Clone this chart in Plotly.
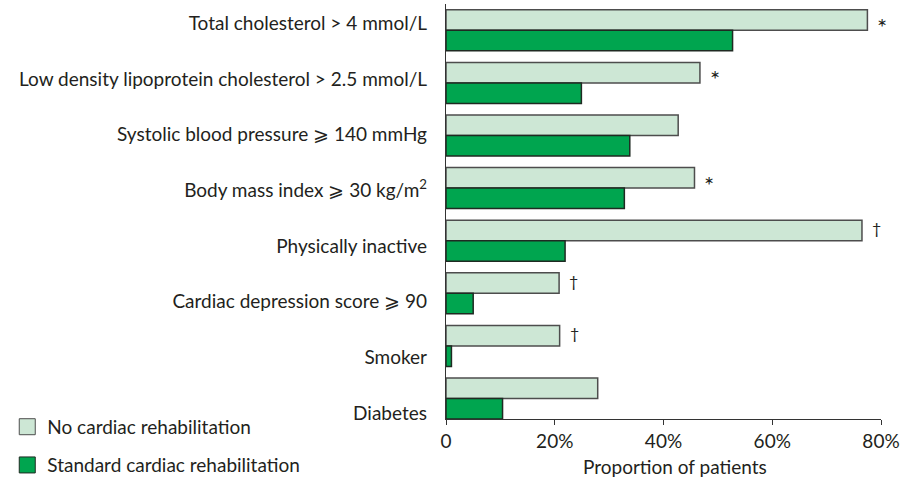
import plotly.graph_objects as go

# Risk factor categories, top to bottom
categories = [
    "Total cholesterol > 4 mmol/L",
    "Low density lipoprotein cholesterol > 2.5 mmol/L",
    "Systolic blood pressure ⩾ 140 mmHg",
    "Body mass index ⩾ 30 kg/m<sup>2</sup>",
    "Physically inactive",
    "Cardiac depression score ⩾ 90",
    "Smoker",
    "Diabetes",
]

# Proportion of patients (%)
no_rehab = [77.5, 46.7, 42.7, 45.7, 76.5, 20.8, 20.9, 27.9]
standard_rehab = [52.7, 24.9, 33.8, 32.8, 21.9, 5.0, 1.0, 10.4]

# Significance markers next to the "no rehabilitation" bars
significance = ["*", "*", "", "*", "†", "†", "†", ""]

series_names = ["No cardiac rehabilitation", "Standard cardiac rehabilitation"]

x_tickvals = [0, 20, 40, 60, 80]
x_ticktext = ["0", "20%", "40%", "60%", "80%"]
x_title = "Proportion of patients"

FONT = "Lato"
FS = 19
TEXT = "#231f20"
LIGHT = "#cde7d5"
DARK = "#00a54f"

positions = list(range(len(categories)))

fig = go.Figure()

fig.add_trace(go.Bar(
    x=no_rehab, y=positions, orientation="h", name=series_names[0],
    marker=dict(color=LIGHT, line=dict(color="#4d4d4d", width=1.5)),
    showlegend=False, hoverinfo="x",
))
fig.add_trace(go.Bar(
    x=standard_rehab, y=positions, orientation="h", name=series_names[1],
    marker=dict(color=DARK, line=dict(color="#1f2a22", width=1.5)),
    showlegend=False, hoverinfo="x",
))

# Invisible trace carrying the category label axis
fig.add_trace(go.Scatter(
    x=[0] * len(categories), y=positions, yaxis="y2", mode="markers",
    marker=dict(opacity=0), showlegend=False, hoverinfo="skip",
))

# Legend entries with larger square swatches
fig.add_trace(go.Scatter(
    x=[None], y=[None], mode="markers", name=series_names[0], legend="legend",
    marker=dict(symbol="square", size=16, color=LIGHT, line=dict(color="#4d4d4d", width=1)),
))
fig.add_trace(go.Scatter(
    x=[None], y=[None], mode="markers", name=series_names[1], legend="legend2",
    marker=dict(symbol="square", size=16, color=DARK, line=dict(color="#1f2a22", width=1)),
))

for i, (v, s) in enumerate(zip(no_rehab, significance)):
    if not s:
        continue
    star = s == "*"
    fig.add_annotation(
        x=v, y=i, xref="x", yref="y", text=s, showarrow=False,
        xanchor="left", yanchor="middle", xshift=8,
        yshift=4 if star else 13,
        font=dict(family=FONT, size=24 if star else 16, color=TEXT),
    )

# X-axis title, placed below the tick labels
fig.add_annotation(
    x=0.5, y=0, xref="paper", yref="paper", xshift=11, yshift=-47,
    text=x_title, showarrow=False, xanchor="center", yanchor="middle",
    font=dict(family=FONT, size=FS, color=TEXT),
)

legend_common = dict(
    xref="container", yref="container", xanchor="left", yanchor="middle",
    bgcolor="rgba(0,0,0,0)", borderwidth=0,
    font=dict(family=FONT, size=FS, color=TEXT),
)

fig.update_layout(
    width=908, height=478,
    margin=dict(l=446, r=27, t=4, b=59, autoexpand=False),
    paper_bgcolor="white", plot_bgcolor="white",
    barmode="group", bargap=0.22, bargroupgap=0,
    font=dict(family=FONT, size=FS, color=TEXT),
    legend=dict(x=0.008, y=0.107, **legend_common),
    legend2=dict(x=0.008, y=0.027, **legend_common),
    xaxis=dict(
        range=[0, 80], tickvals=x_tickvals, ticktext=x_ticktext,
        showline=True, linecolor="#333333", linewidth=1,
        ticks="outside", ticklen=5, tickcolor="#333333",
        showgrid=False, zeroline=False, automargin=False,
        tickfont=dict(family=FONT, size=FS, color=TEXT),
    ),
    yaxis=dict(
        range=[7.39, -0.5], showline=True, linecolor="#333333", linewidth=1,
        showticklabels=False, ticks="", showgrid=False, zeroline=False,
        automargin=False,
    ),
    yaxis2=dict(
        overlaying="y", side="left", anchor="x",
        range=[7.108, -0.351], tickvals=positions, ticktext=categories,
        showline=False, ticks="", showgrid=False, zeroline=False,
        ticklabelstandoff=18, automargin=False,
        tickfont=dict(family=FONT, size=FS, color=TEXT),
    ),
)

fig.write_html("out.html")
